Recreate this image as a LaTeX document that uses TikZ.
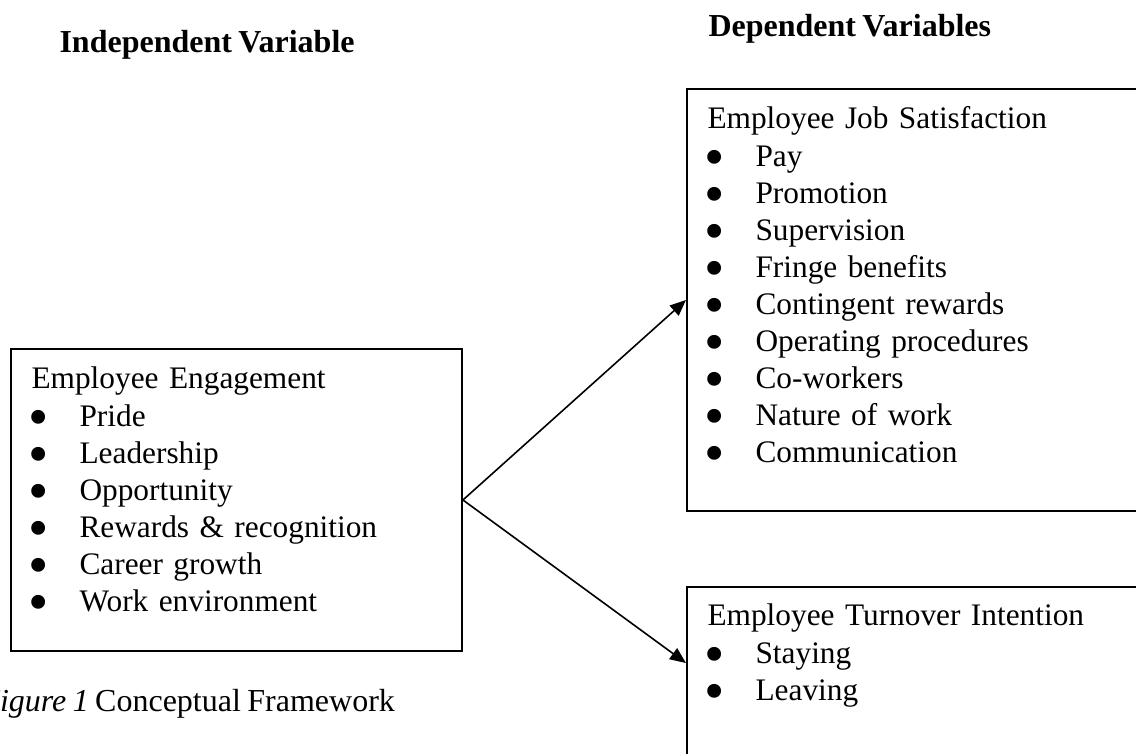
\documentclass[tikz,border=0pt]{standalone}
\usepackage{fontspec}
\usepackage{graphicx}
\setmainfont[WordSpace=0.8]{Liberation Serif}
\usetikzlibrary{arrows.meta}

% bullet with the hanging indent of the list
\newcommand{\bul}[1]{\makebox[18pt][l]{\hspace*{-1pt}\smash{\raisebox{-3.9pt}{\scalebox{1.85}{\textbullet}}}}#1}

\begin{document}
\begin{tikzpicture}[x=0.375pt, y=-0.375pt,
  frame/.style={draw, line width=0.75pt, inner sep=0pt, anchor=north west},
  listtext/.style={anchor=base west, align=left, text width=165pt, inner sep=0pt, font=\fontsize{11.75}{13.9}\selectfont},
  heading/.style={anchor=base west, inner sep=0pt, font=\fontsize{12}{13.9}\selectfont\bfseries},
  link/.style={line width=0.6pt, -{Triangle[length=6pt, width=5pt]}}]

% Fix the canvas
\useasboundingbox (0,0) rectangle (1136,754);

% Draw column headings
\node[heading] (indephead) at (59,53) {Independent Variable};
\node[heading] (dephead) at (708,37) {Dependent Variables};

% Draw independent variable box
\node[frame, minimum width=169.1pt, minimum height=113.25pt] (engage) at (10,348) {};
\node[listtext] (engagetext) at (31,389) {Employee Engagement\\
  \bul{Pride}\\ \bul{Leadership}\\ \bul{Opportunity}\\
  \bul{Rewards \& recognition}\\ \bul{Career growth}\\ \bul{Work environment}};

% Draw dependent variable boxes
\node[frame, minimum width=172.1pt, minimum height=158.25pt] (satisfy) at (686,88) {};
\node[listtext] (satisfytext) at (707,129) {Employee Job Satisfaction\\
  \bul{Pay}\\ \bul{Promotion}\\ \bul{Supervision}\\ \bul{Fringe benefits}\\
  \bul{Contingent rewards}\\ \bul{Operating procedures}\\ \bul{Co-workers}\\
  \bul{Nature of work}\\ \bul{Communication}};

\node[frame, minimum width=172.1pt, minimum height=100pt] (turnover) at (686,586) {};
\node[listtext] (turnovertext) at (707,626) {Employee Turnover Intention\\
  \bul{Staying}\\ \bul{Leaving}};

% Draw arrows from engagement to the outcomes
\draw[link] (engage.east) -- (satisfy.west);
\draw[link] (engage.east) -- ([yshift=-28.9pt]turnover.north west);

% Figure caption
\node[anchor=base west, inner sep=0pt, font=\fontsize{12}{13.9}\selectfont] (caption) at (-20,712) {\textit{Figure 1} Conceptual Framework};

\end{tikzpicture}
\end{document}
